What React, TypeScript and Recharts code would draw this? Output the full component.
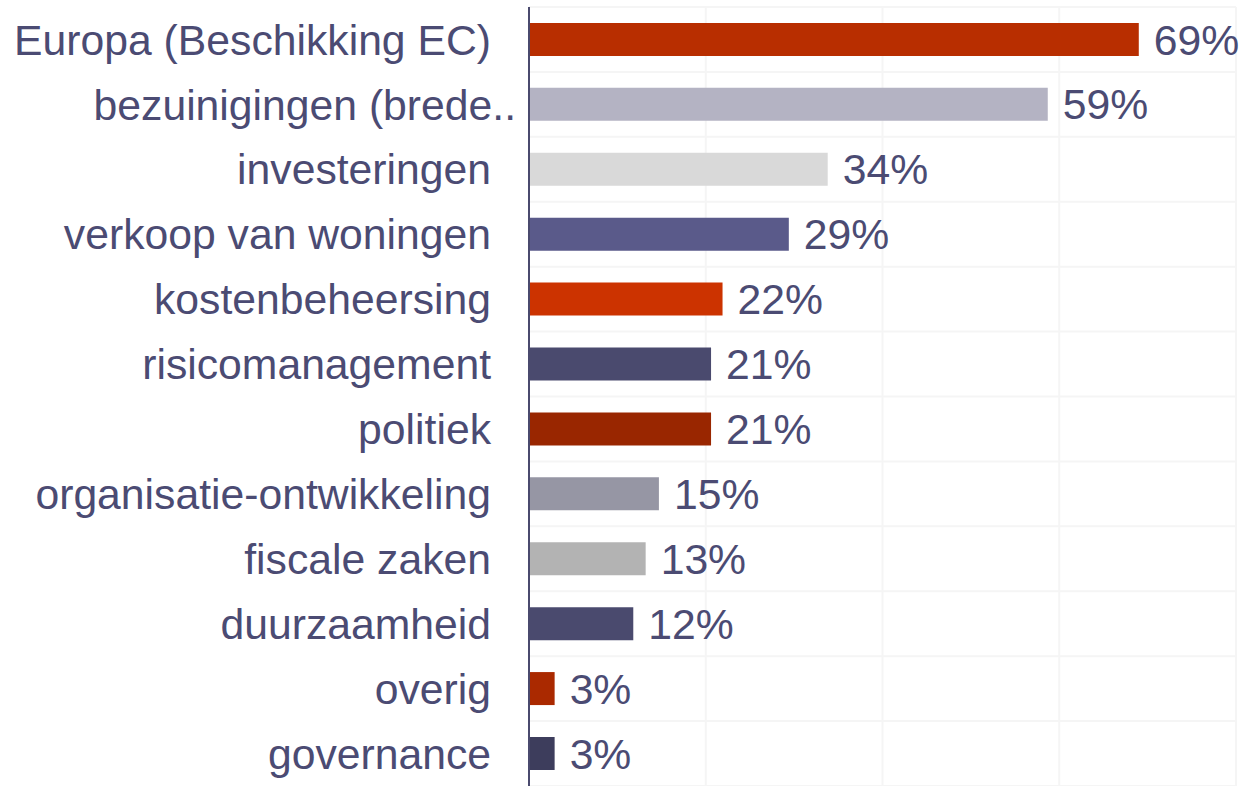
import React from "react";
import { BarChart, Bar, XAxis, YAxis, CartesianGrid, Cell, LabelList } from "recharts";

const categories = [
  "Europa (Beschikking EC)",
  "bezuinigingen (brede..",
  "investeringen",
  "verkoop van woningen",
  "kostenbeheersing",
  "risicomanagement",
  "politiek",
  "organisatie-ontwikkeling",
  "fiscale zaken",
  "duurzaamheid",
  "overig",
  "governance",
];
const values = [69, 58.7, 33.8, 29.4, 21.9, 20.6, 20.6, 14.7, 13.2, 11.8, 2.9, 2.9];
const colors = [
  "#B82E00",
  "#B4B3C3",
  "#D9D9D9",
  "#5A5A8A",
  "#CC3300",
  "#4A4A6E",
  "#992600",
  "#9696A4",
  "#B3B3B3",
  "#4A4A6E",
  "#AA2900",
  "#3D3D5C",
];
const xTicks = [0, 20, 40, 60, 80];

const data = categories.map((name, i) => ({ name, value: values[i] }));

const TEXT = "#4B4B73";
const FONT = "'Liberation Sans', Arial, sans-serif";
const FS = 42.7;

const Tick = (props: any) => {
  const { x, y, payload } = props;
  const label: string = payload.value;
  const overhang = label.endsWith("..") ? 25 : 0;
  return (
    <text
      x={x + overhang}
      y={y}
      dy="0.355em"
      textAnchor="end"
      fill={TEXT}
      fontSize={FS}
      fontFamily={FONT}
    >
      {label}
    </text>
  );
};

export default function App() {
  return (
    <div style={{ position: "absolute", left: 0, top: 0, background: "#fff" }}>
      <BarChart
        width={1243}
        height={786}
        data={data}
        layout="vertical"
        margin={{ top: 7, right: 7, bottom: 0, left: 0 }}
        barCategoryGap="24.5%"
      >
        <CartesianGrid
          stroke="#F5F5F5"
          strokeWidth={2}
          horizontalCoordinatesGenerator={({ offset }: any) =>
            Array.from({ length: categories.length + 1 }, (_, i) =>
              offset.top + (offset.height * i) / categories.length
            )
          }
        />
        <XAxis type="number" domain={[0, 80]} ticks={xTicks} hide />
        <YAxis
          type="category"
          dataKey="name"
          width={529}
          tickLine={false}
          tickSize={0}
          tickMargin={38}
          axisLine={{ stroke: "#4A4A6E", strokeWidth: 2 }}
          tick={<Tick />}
          interval={0}
        />
        <Bar dataKey="value" isAnimationActive={false}>
          {data.map((d, i) => (
            <Cell key={d.name} fill={colors[i]} />
          ))}
          <LabelList
            dataKey="value"
            position="right"
            offset={15}
            formatter={(v: any) => `${Math.round(Number(v))}%`}
            fill={TEXT}
            fontSize={FS}
            fontFamily={FONT}
          />
        </Bar>
      </BarChart>
    </div>
  );
}
